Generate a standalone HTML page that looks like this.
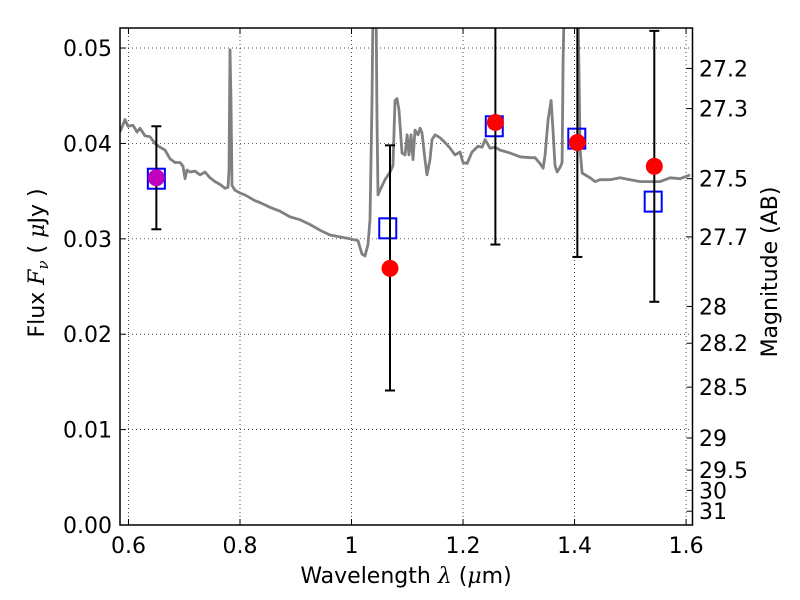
<!DOCTYPE html>
<html><head><meta charset="utf-8"><style>
html,body{margin:0;padding:0;background:#fff}
svg{display:block;font-family:"DejaVu Sans","Liberation Sans",sans-serif}
</style></head><body>
<svg id="chart" width="800" height="600" xmlns="http://www.w3.org/2000/svg">
<rect width="800" height="600" fill="#fff"/>
<g id="grid"></g>
<g id="ticks"></g>
<g id="plot" clip-path="url(#clip)"></g>
<defs><clipPath id="clip"><rect x="120" y="28" width="572" height="497"/></clipPath></defs>
<rect x="120" y="28" width="572.5" height="497" fill="none" stroke="#000" stroke-width="1.5"/>
<text x="406" y="583" font-size="22" text-anchor="middle">Wavelength  <tspan font-style="italic" font-family="DejaVu Serif,serif">λ</tspan> (<tspan font-style="italic" font-family="DejaVu Serif,serif">μ</tspan>m)</text>
<text transform="translate(44,263) rotate(-90)" font-size="22" text-anchor="middle">Flux  <tspan font-style="italic" font-family="DejaVu Serif,serif">F<tspan font-size="15" dy="4">ν</tspan></tspan><tspan dy="-4">  ( </tspan><tspan font-style="italic" font-family="DejaVu Serif,serif">μ</tspan>Jy )</text>
<text transform="translate(777,272) rotate(-90)" font-size="22" text-anchor="middle">Magnitude (AB)</text>
</svg>
<script>
const xTicks=[0.6,0.8,1.0,1.2,1.4,1.6];
const xTickLabels=["0.6","0.8","1","1.2","1.4","1.6"];
const yTicks=[0,0.01,0.02,0.03,0.04,0.05];
const yTickLabels=["0.00","0.01","0.02","0.03","0.04","0.05"];
const magTicks=[27.2,27.3,27.5,27.7,28,28.2,28.5,29,29.5,30,31];
const sedLam=[0.5848,0.5937,0.5991,0.6081,0.6152,0.6206,0.6296,0.6386,0.6476,0.6565,0.6655,0.6745,0.6834,0.6924,0.6978,0.7013,0.7049,0.7103,0.7193,0.7283,0.7372,0.7462,0.7552,0.7641,0.7731,0.7785,0.7803,0.7821,0.7839,0.7856,0.7910,0.8000,0.8090,0.8179,0.8269,0.8359,0.8538,0.8717,0.8897,0.9076,0.9256,0.9435,0.9614,0.9794,0.9973,1.0117,1.0188,1.0242,1.0296,1.0332,1.0368,1.0386,1.0440,1.0457,1.0475,1.0511,1.0601,1.0691,1.0744,1.0780,1.0816,1.0852,1.0906,1.0960,1.0996,1.1031,1.1067,1.1103,1.1139,1.1193,1.1229,1.1264,1.1318,1.1354,1.1408,1.1444,1.1498,1.1587,1.1677,1.1767,1.1856,1.1946,1.2000,1.2072,1.2161,1.2269,1.2341,1.2395,1.2484,1.2574,1.2664,1.2843,1.3022,1.3202,1.3292,1.3381,1.3435,1.3471,1.3525,1.3579,1.3614,1.3650,1.3686,1.3740,1.3776,1.3794,1.3812,1.4063,1.4099,1.4135,1.4278,1.4368,1.4458,1.4637,1.4816,1.4996,1.5175,1.5355,1.5534,1.5713,1.5893,1.6072];
const sedFlux=[0.0412,0.0425,0.0418,0.0419,0.0412,0.0416,0.0408,0.0407,0.0400,0.0396,0.0393,0.0384,0.0380,0.0380,0.0376,0.0363,0.0372,0.0370,0.0371,0.0367,0.0370,0.0364,0.0360,0.0357,0.0353,0.0354,0.0372,0.0498,0.0445,0.0356,0.0351,0.0348,0.0346,0.0343,0.0340,0.0338,0.0333,0.0329,0.0323,0.0320,0.0315,0.0309,0.0304,0.0302,0.0300,0.0298,0.0284,0.0282,0.0294,0.0320,0.0445,0.0540,0.0540,0.0425,0.0346,0.0351,0.0362,0.0370,0.0377,0.0445,0.0447,0.0435,0.0390,0.0388,0.0409,0.0388,0.0409,0.0383,0.0414,0.0409,0.0416,0.0411,0.0383,0.0367,0.0383,0.0404,0.0409,0.0406,0.0401,0.0395,0.0388,0.0391,0.0380,0.0379,0.0391,0.0397,0.0396,0.0404,0.0395,0.0396,0.0393,0.0390,0.0386,0.0385,0.0385,0.0379,0.0374,0.0388,0.0425,0.0445,0.0414,0.0377,0.0370,0.0375,0.0380,0.0487,0.0540,0.0540,0.0393,0.0369,0.0364,0.0360,0.0362,0.0362,0.0364,0.0362,0.0360,0.0360,0.0360,0.0364,0.0363,0.0367];
const obsLam=[0.650,1.069,1.258,1.405,1.543];
const obsFlux=[0.0364,0.0269,0.0422,0.0401,0.0376];
const errLo=[0.0310,0.0141,0.0294,0.0281,0.0234];
const errHi=[0.0418,0.0398,0.0600,0.0600,0.0518];
const modLam=[0.650,1.065,1.256,1.404,1.541];
const modFlux=[0.0363,0.0311,0.0418,0.0405,0.0339];
const pointColors=["#bf00bf","red","red","red","red"];

const X0=120,X1=692.5,Y0=525,Y1=28,xmin=0.5848,xmax=1.6115,ymax=0.0521;
const sx=v=>X0+(v-xmin)/(xmax-xmin)*(X1-X0);
const sy=v=>Y0-v/ymax*(Y0-Y1);
const NS="http://www.w3.org/2000/svg";
function mk(tag,attrs,parent){const e=document.createElementNS(NS,tag);for(const k in attrs)e.setAttribute(k,attrs[k]);parent.appendChild(e);return e;}
const grid=document.getElementById('grid'),ticks=document.getElementById('ticks'),plot=document.getElementById('plot');
xTicks.forEach((t,i)=>{const x=sx(t);
 let g=mk('line',{x1:x,x2:x,y1:Y1,y2:Y0,stroke:'#000','stroke-width':0.7,'stroke-dasharray':'1,3'},grid);
 
 mk('line',{x1:x,x2:x,y1:Y0,y2:Y0-6,stroke:'#000'},ticks);mk('line',{x1:x,x2:x,y1:Y1,y2:Y1+6,stroke:'#000'},ticks);
 const tx=mk('text',{x:x,y:553,'font-size':22,'text-anchor':'middle'},ticks);tx.textContent=xTickLabels[i];
 });
yTicks.forEach((t,i)=>{const y=sy(t);
 let g=mk('line',{x1:X0,x2:X1,y1:y,y2:y,stroke:'#000','stroke-width':0.7,'stroke-dasharray':'1,3'},grid);
 
 mk('line',{x1:X0,x2:X0+6,y1:y,y2:y,stroke:'#000'},ticks);
 const tx=mk('text',{x:112,y:y+8,'font-size':22,'text-anchor':'end'},ticks);tx.textContent=yTickLabels[i];
 });
magTicks.forEach(m=>{const y=sy(Math.pow(10,(23.9-m)/2.5));
 mk('line',{x1:X1,x2:X1-6,y1:y,y2:y,stroke:'#000'},ticks);
 const tx=mk('text',{x:699,y:y+8,'font-size':22},ticks);tx.textContent=String(m);
 });
const pts=sedLam.map((l,i)=>sx(l).toFixed(1)+','+sy(sedFlux[i]).toFixed(1)).join(' ');
const line=mk('polyline',{points:pts,fill:'none',stroke:'#808080','stroke-width':2.8,'stroke-linejoin':'round'},plot);


modLam.forEach((l,i)=>{const x=sx(l),y=sy(modFlux[i]);
 const r=mk('rect',{x:x-8.5,y:y-10,width:17,height:20,fill:'none',stroke:'#0000ff','stroke-width':2},plot);
 });
obsLam.forEach((l,i)=>{const x=sx(l);
 const e=mk('g',{},plot);
 
 mk('line',{x1:x,x2:x,y1:sy(errLo[i]),y2:sy(errHi[i]),stroke:'#000','stroke-width':2},e);
 mk('line',{x1:x-5,x2:x+5,y1:sy(errLo[i]),y2:sy(errLo[i]),stroke:'#000','stroke-width':2},e);
 mk('line',{x1:x-5,x2:x+5,y1:sy(errHi[i]),y2:sy(errHi[i]),stroke:'#000','stroke-width':2},e);
 const c=mk('circle',{cx:x,cy:sy(obsFlux[i]),r:8.5,fill:pointColors[i]},plot);
 });
</script>
</body></html>
